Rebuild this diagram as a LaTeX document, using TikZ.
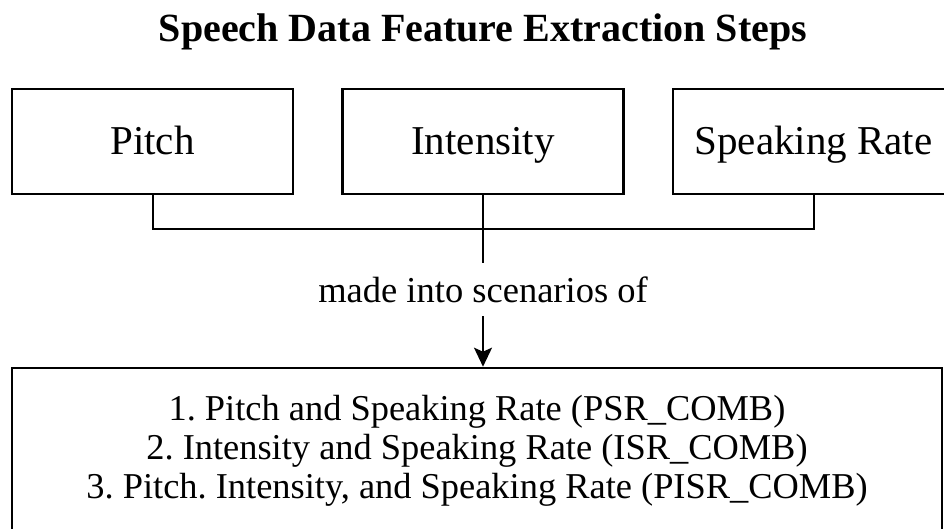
\documentclass[tikz,border=0pt]{standalone}
\usepackage{fontspec}
\setmainfont{Liberation Serif}
\usetikzlibrary{arrows.meta}
\frenchspacing
\begin{document}
\begin{tikzpicture}[x=1pt, y=-1pt, every node/.style={font=\fontsize{41}{49}\selectfont}]
  \tikzstyle{feat}=[draw, line width=2.6pt, minimum width=281pt, minimum height=105pt, inner sep=0pt, text height=32pt, text depth=5pt]
  \tikzstyle{link}=[line width=2pt]
  \clip (0,0) rectangle (944,529);
  \node[font=\bfseries\fontsize{40}{48}\selectfont] (title) at (483,32) {Speech Data Feature Extraction Steps};
  \node[feat] (pitch) at (152.5,141.5) {Pitch};
  \node[feat] (inten) at (483,141.5) {Intensity};
  \node[feat] (rate) at (813.5,141.5) {Speaking Rate};
  \coordinate (join) at (483,229);
  \draw[link] (pitch.south) |- (join) -| (rate.south);
  \node[font=\fontsize{36.5}{44}\selectfont, minimum height=53pt, inner sep=0pt] (made) at (483,289.5) {made into scenarios of};
  \node[draw, line width=2.6pt, minimum width=930pt, minimum height=166pt, inner sep=0pt, align=center,
        font=\fontsize{36.4}{39}\selectfont] (scen) at (477,451)
        {1. Pitch and Speaking Rate (PSR\_COMB)\\
         2. Intensity and Speaking Rate (ISR\_COMB)\\
         3. Pitch. Intensity, and Speaking Rate (PISR\_COMB)};
  \draw[link] (inten.south) -- (made.north);
  \draw[link, -{Stealth[length=19pt, width=18pt, inset=4pt]}] (made.south) -- (made.south |- scen.north);
\end{tikzpicture}
\end{document}
